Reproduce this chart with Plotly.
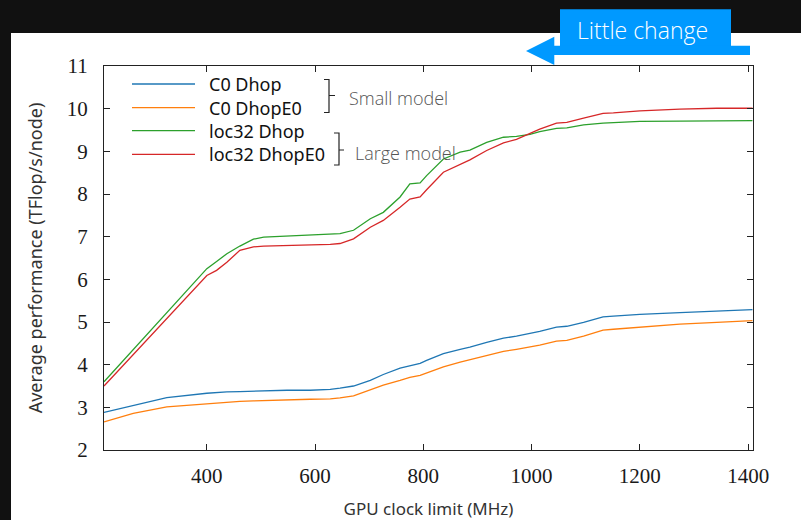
import plotly.graph_objects as go

# ---------------- data ----------------
clock_mhz = [210, 264, 326, 400, 418, 437, 461, 486, 505, 548, 591, 628, 646, 671, 702, 726,
             757, 775, 794, 806, 837, 868, 886, 917, 948, 972, 997, 1015, 1046, 1065, 1096,
             1132, 1151, 1200, 1274, 1342, 1408]

c0_dhop = [2.88, 3.05, 3.23, 3.33, 3.35, 3.36, 3.37, 3.38, 3.39, 3.40, 3.40, 3.42, 3.45, 3.50,
           3.63, 3.77, 3.92, 3.97, 4.03, 4.10, 4.26, 4.36, 4.41, 4.52, 4.62, 4.67, 4.73, 4.78,
           4.88, 4.90, 4.99, 5.12, 5.14, 5.18, 5.22, 5.25, 5.29]

c0_dhope0 = [2.66, 2.86, 3.01, 3.09, 3.11, 3.12, 3.14, 3.15, 3.16, 3.17, 3.19, 3.20, 3.22, 3.27,
             3.41, 3.52, 3.63, 3.70, 3.75, 3.81, 3.95, 4.06, 4.12, 4.22, 4.31, 4.36, 4.41, 4.46,
             4.55, 4.57, 4.67, 4.81, 4.83, 4.88, 4.95, 4.99, 5.03]

loc32_dhop = [3.60, 4.36, 5.22, 6.25, 6.42, 6.60, 6.78, 6.94, 6.99, 7.01, 7.03, 7.05, 7.07, 7.15,
              7.42, 7.57, 7.93, 8.24, 8.26, 8.43, 8.82, 8.98, 9.03, 9.21, 9.33, 9.35, 9.40, 9.46,
              9.54, 9.55, 9.62, 9.66, 9.67, 9.70, 9.71, 9.72, 9.72]

loc32_dhope0 = [3.50, 4.24, 5.08, 6.09, 6.21, 6.40, 6.68, 6.76, 6.78, 6.79, 6.80, 6.82, 6.84, 6.95,
                7.22, 7.38, 7.69, 7.88, 7.93, 8.10, 8.51, 8.70, 8.80, 9.02, 9.20, 9.28, 9.41, 9.52,
                9.66, 9.68, 9.78, 9.89, 9.90, 9.95, 9.99, 10.01, 10.01]

series_names = ["C0 Dhop", "C0 DhopE0", "loc32 Dhop", "loc32 DhopE0"]
series_values = [c0_dhop, c0_dhope0, loc32_dhop, loc32_dhope0]
series_colors = ["#1f77b4", "#ff7f0e", "#2ca02c", "#d62728"]

x_ticks = [400, 600, 800, 1000, 1200, 1400]
y_ticks = [2, 3, 4, 5, 6, 7, 8, 9, 10, 11]

# ---------------- layout geometry ----------------
W, H = 801, 520
ML, MR, MT, MB = 104, 48, 66, 70
PW, PH = W - ML - MR, H - MT - MB


def px(x):
    return (x - ML) / PW


def py(y):
    return (H - MB - y) / PH


fig = go.Figure()
for name, vals, col in zip(series_names, series_values, series_colors):
    fig.add_trace(go.Scatter(x=clock_mhz, y=vals, mode="lines", name=name,
                             line=dict(color=col, width=1.3), showlegend=False))

dark = "#111111"
shapes = []
# dark frame (top band + left strip) around the white slide area
shapes.append(dict(type="rect", xref="paper", yref="paper", layer="below",
                   x0=px(-1), x1=px(802), y0=py(33), y1=py(-1),
                   fillcolor=dark, line=dict(width=0)))
shapes.append(dict(type="rect", xref="paper", yref="paper", layer="below",
                   x0=px(-1), x1=px(11), y0=py(521), y1=py(33),
                   fillcolor=dark, line=dict(width=0)))

# legend lines
leg_y = [84, 107.7, 130.7, 154.3]
annotations = []
for yy, name, col in zip(leg_y, series_names, series_colors):
    shapes.append(dict(type="line", xref="paper", yref="paper",
                       x0=px(132), x1=px(195), y0=py(yy), y1=py(yy),
                       line=dict(color=col, width=1.3)))
    annotations.append(dict(xref="paper", yref="paper", x=px(207), y=py(yy),
                            text=name, showarrow=False, xanchor="left", yanchor="middle",
                            font=dict(family="Noto Sans", size=18, color="#111111")))


def brace_path(xl, xv, xt, yt, yb, ym):
    pts = [(xl, yt), (xv, yt), (xv, yb), (xl, yb)]
    p = "M {} {} L {} {} L {} {} L {} {}".format(*[c for pt in pts for c in (px(pt[0]), py(pt[1]))])
    p += " M {} {} L {} {}".format(px(xv), py(ym), px(xt), py(ym))
    return p


shapes.append(dict(type="path", xref="paper", yref="paper",
                   path=brace_path(324, 329, 335, 79.5, 112.5, 95.5),
                   line=dict(color="#222222", width=1.2)))
shapes.append(dict(type="path", xref="paper", yref="paper",
                   path=brace_path(334, 339, 344, 133, 165, 150),
                   line=dict(color="#222222", width=1.2)))

annotations.append(dict(xref="paper", yref="paper", x=px(347), y=py(98.5), text="Small model",
                        showarrow=False, xanchor="left", yanchor="middle",
                        font=dict(family="Open Sans", size=18, color="#555555", weight=300)))
annotations.append(dict(xref="paper", yref="paper", x=px(353), y=py(153), text="Large model",
                        showarrow=False, xanchor="left", yanchor="middle",
                        font=dict(family="Open Sans", size=18, color="#555555", weight=300)))

# "Little change" callout
blue = "#0099FF"
shapes.append(dict(type="rect", xref="paper", yref="paper", layer="above",
                   x0=px(560), x1=px(731), y0=py(46), y1=py(9.3),
                   fillcolor=blue, line=dict(width=0)))
arrow = [(526, 51), (554.3, 36.7), (554.3, 45.7), (750, 45.7), (750, 55), (554.3, 55), (554.3, 65)]
ap = "M " + " L ".join("{} {}".format(px(a), py(b)) for a, b in arrow) + " Z"
shapes.append(dict(type="path", xref="paper", yref="paper", layer="above",
                   path=ap, fillcolor=blue, line=dict(width=0)))
annotations.append(dict(xref="paper", yref="paper", x=px(642), y=py(30), text="Little change",
                        showarrow=False, xanchor="center", yanchor="middle",
                        font=dict(family="Open Sans", size=23, color="white", weight=300)))

axis_common = dict(showline=True, linecolor="#222222", linewidth=1.3, mirror="ticks",
                   ticks="inside", ticklen=6, tickwidth=1.1, tickcolor="#222222",
                   showgrid=False, zeroline=False, automargin=False,
                   tickfont=dict(family="Liberation Serif", size=21, color="#1a1a1a"))

fig.update_layout(
    width=W, height=H,
    margin=dict(l=ML, r=MR, t=MT, b=MB, pad=0),
    paper_bgcolor="white", plot_bgcolor="white",
    shapes=shapes, annotations=annotations,
    xaxis=dict(range=[210, 1409], tickvals=x_ticks, ticktext=[str(v) for v in x_ticks],
               ticklabelstandoff=7,
               title=dict(text="GPU clock limit (MHz)", standoff=15,
                          font=dict(family="Noto Sans", size=17, color="#333333")),
               **axis_common),
    yaxis=dict(range=[2, 11], tickvals=y_ticks, ticktext=[str(v) for v in y_ticks],
               ticklabelstandoff=11,
               title=dict(text="Average performance (TFlop/s/node)", standoff=19,
                          font=dict(family="Noto Sans", size=18, color="#333333")),
               **axis_common),
)

fig.write_html(
    "out.html", config={"displayModeBar": False},
    post_script=("document.documentElement.style.overflow='hidden';"
                 "document.body.style.overflow='hidden';"
                 "document.body.style.margin='0px';"
                 "document.body.style.background='white';"))
